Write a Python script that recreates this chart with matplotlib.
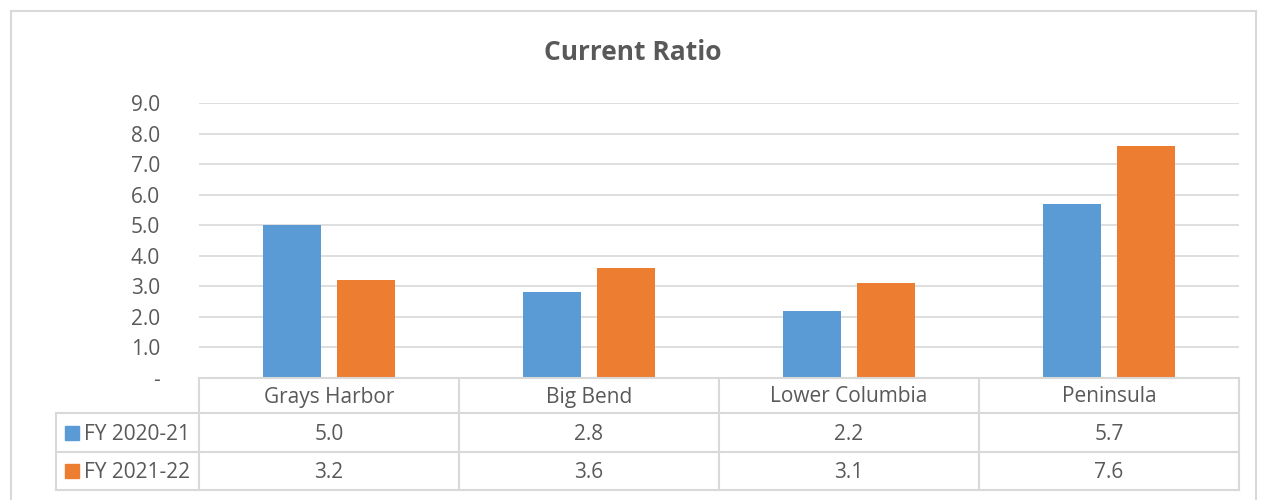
import matplotlib
matplotlib.use("Agg")
import matplotlib.pyplot as plt
from matplotlib.lines import Line2D
from matplotlib.patches import Rectangle

categories = ["Grays Harbor", "Big Bend", "Lower Columbia", "Peninsula"]
series_names = ["FY 2020-21", "FY 2021-22"]
fy2021 = [5.0, 2.8, 2.2, 5.7]
fy2122 = [3.2, 3.6, 3.1, 7.6]
yticks = [0, 1, 2, 3, 4, 5, 6, 7, 8, 9]
ytick_labels = ["-", "1.0", "2.0", "3.0", "4.0", "5.0", "6.0", "7.0", "8.0", "9.0"]

colors = ["#5B9BD5", "#ED7D31"]
txt = "#595959"
gridc = "#D9D9D9"
FONT = ["Open Sans", "DejaVu Sans"]
plt.rcParams["font.family"] = FONT
FS = 15

W, H = 1265, 500
fig = plt.figure(figsize=(W / 100, H / 100), dpi=100)

def fx(x):
    return x / W

def fy(y):
    return 1 - y / H

# outer border
for (x0, y0, x1, y1) in [(11, 11, 1256, 11), (11, 11, 11, 500), (1256, 11, 1256, 500)]:
    fig.add_artist(Line2D([fx(x0), fx(x1)], [fy(y0), fy(y1)], color=gridc, lw=1.5))

L, R, T, B = 199, 1239, 103, 378
ax = fig.add_axes([fx(L), fy(B), fx(R) - fx(L), fy(T) - fy(B)])
ax.set_xlim(-0.5, len(categories) - 0.5)
ax.set_ylim(0, 9)
bw = 0.223
off = 0.142
xs = range(len(categories))
ax.bar([x - off for x in xs], fy2021, width=bw, color=colors[0], zorder=3)
ax.bar([x + off for x in xs], fy2122, width=bw, color=colors[1], zorder=3)
ax.set_yticks(yticks)
ax.set_yticklabels(ytick_labels, color=txt, fontsize=FS)
ax.tick_params(axis="y", length=0, pad=28)
ax.set_xticks([])
for s in ax.spines.values():
    s.set_visible(False)
for v in yticks[1:]:
    ax.axhline(v, color=gridc, lw=1.2, zorder=1)

fig.text(0.5, fy(53), "Current Ratio", ha="center", va="center",
         fontsize=19, fontweight="bold", color=txt)

# data table
rows_y = [378, 413, 452, 490]
cols_x = [L + i * (R - L) / len(categories) for i in range(len(categories) + 1)]
lw = 1.5
fig.add_artist(Line2D([fx(L), fx(R)], [fy(378), fy(378)], color=gridc, lw=lw))
for y in rows_y[1:]:
    fig.add_artist(Line2D([fx(56), fx(R)], [fy(y), fy(y)], color=gridc, lw=lw))
for x in cols_x:
    fig.add_artist(Line2D([fx(x), fx(x)], [fy(378), fy(490)], color=gridc, lw=lw))
fig.add_artist(Line2D([fx(56), fx(56)], [fy(413), fy(490)], color=gridc, lw=lw))

for i, c in enumerate(categories):
    cx = (cols_x[i] + cols_x[i + 1]) / 2
    fig.text(fx(cx), fy(397), c, ha="center", va="center", fontsize=FS, color=txt)
    fig.text(fx(cx), fy(434), f"{fy2021[i]:.1f}", ha="center", va="center", fontsize=FS, color=txt)
    fig.text(fx(cx), fy(472), f"{fy2122[i]:.1f}", ha="center", va="center", fontsize=FS, color=txt)

for j, (name, yc) in enumerate(zip(series_names, [433, 471])):
    fig.add_artist(Rectangle((fx(65), fy(yc + 7)), fx(14), fy(0) - fy(14),
                             color=colors[j], transform=fig.transFigure))
    fig.text(fx(84), fy(yc + 1), name, ha="left", va="center", fontsize=FS, color=txt)

fig.savefig("out.png", dpi=100)
